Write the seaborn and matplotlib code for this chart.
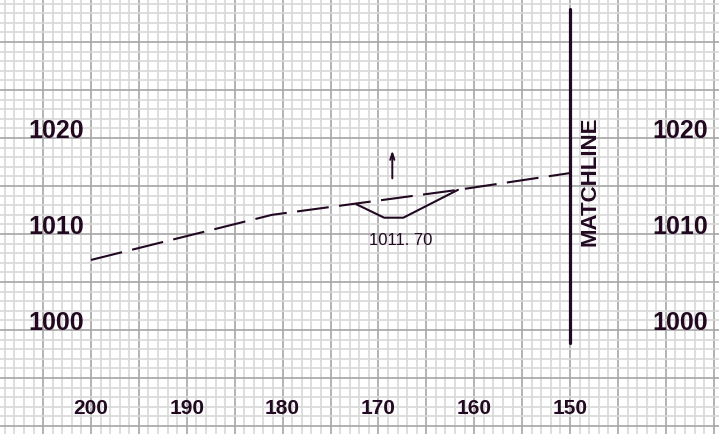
import matplotlib

matplotlib.use("Agg")
import matplotlib.pyplot as plt
import numpy as np
import pandas as pd
import seaborn as sns

INK = "#220820"
FONT = "Liberation Sans"

# existing ground profile (station, elevation)
ground_sta = [200, 181.1, 161.7, 150]
ground_elev = [1007.3, 1012.0, 1014.6, 1016.35]

# ditch section
ditch_sta = [172.3, 169.4, 167.4, 161.7]
ditch_elev = [1013.1, 1011.7, 1011.7, 1014.6]

station_ticks = [200, 190, 180, 170, 160, 150]
elev_ticks = [1000, 1010, 1020]

ditch_label = "1011.70"
matchline_sta = 150
matchline_range = [998.65, 1033.4]

XLIM = (209.5, 134.45)
YLIM = (989.17, 1034.48)


def draw_grid(ax):
    for v in np.arange(135, 210):
        if v % 5 == 0:
            c, w = "#a6a6a6", 1.2
        else:
            c, w = "#d8d8d8", 1.2
        ax.axvline(v, color=c, lw=w, zorder=0)
    for v in np.arange(990, 1035):
        if v % 5 == 0:
            c, w = "#a6a6a6", 1.2
        else:
            c, w = "#d8d8d8", 1.2
        ax.axhline(v, color=c, lw=w, zorder=0)


def main() -> None:
    sns.set_style("white")
    plt.rcParams["lines.scale_dashes"] = False

    fig = plt.figure(figsize=(7.19, 4.35), dpi=100)
    ax = fig.add_axes([0, 0, 1, 1])
    draw_grid(ax)

    ground = pd.DataFrame({"station": ground_sta, "elev": ground_elev})
    ditch = pd.DataFrame({"station": ditch_sta, "elev": ditch_elev})

    sns.lineplot(
        data=ground, x="station", y="elev", ax=ax, sort=False, estimator=None,
        color=INK, lw=1.5, zorder=3,
    )
    ax.lines[-1].set_linestyle((0, (23, 7.5)))
    sns.lineplot(
        data=ditch, x="station", y="elev", ax=ax, sort=False, estimator=None,
        color=INK, lw=1.5, zorder=3,
    )

    # matchline
    ax.plot([matchline_sta, matchline_sta], matchline_range, color=INK, lw=2.3, zorder=4)
    ax.text(147.9, 1015.65, "MATCHLINE", rotation=90, ha="center", va="center",
            fontsize=16, fontweight="bold", color=INK, family=FONT)

    # ditch label and arrow
    ax.text(167.7, 1009.4, "1011. 70", ha="center", va="center",
            fontsize=12, color=INK, family=FONT)
    ax.annotate("", xy=(168.55, 1018.7), xytext=(168.55, 1015.8),
                arrowprops=dict(arrowstyle="->,head_length=0.45,head_width=0.15",
                                color=INK, lw=1.4, shrinkA=0, shrinkB=0))

    for e in elev_ticks:
        for x in (203.65, 138.5):
            ax.text(x, e + 0.1, str(e), ha="center", va="baseline",
                    fontsize=18, fontweight="bold", color=INK, family=FONT)
    for s in station_ticks:
        ax.text(s, 991.9, str(s), ha="center", va="center",
                fontsize=15, fontweight="bold", color=INK, family=FONT)

    ax.set_xlim(*XLIM)
    ax.set_ylim(*YLIM)
    ax.set_xlabel("")
    ax.set_ylabel("")
    ax.set_xticks([])
    ax.set_yticks([])
    for sp in ax.spines.values():
        sp.set_visible(False)
    legend = ax.get_legend()
    if legend:
        legend.remove()

    fig.savefig("out.png", dpi=100)
    plt.close(fig)


if __name__ == "__main__":
    main()
